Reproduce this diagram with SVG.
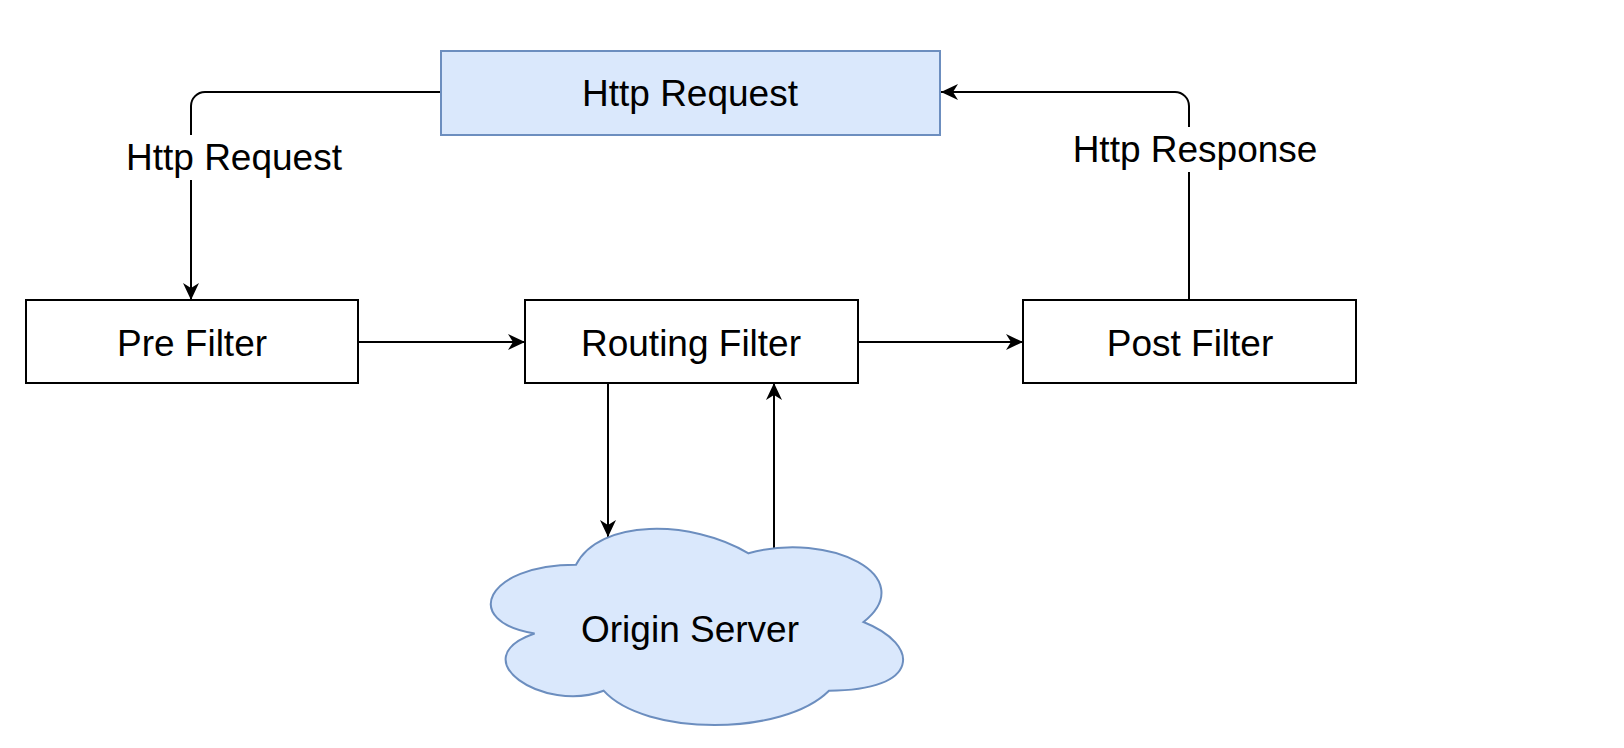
<svg xmlns="http://www.w3.org/2000/svg" width="1624" height="748" viewBox="0 0 1624 748">
  <defs>
    <marker id="arrow" markerUnits="userSpaceOnUse" markerWidth="20" markerHeight="20" viewBox="-18 -10 20 20" refX="0" refY="0" orient="auto">
      <path d="M0,0 L-17,-8 L-12,0 L-17,8 Z" fill="#000"/>
    </marker>
    <style>
      .box { fill: #ffffff; stroke: #000000; stroke-width: 2; }
      .blue { fill: #dae8fc; stroke: #6c8ebf; stroke-width: 2; }
      .edge { fill: none; stroke: #000000; stroke-width: 2; }
      .lbl { font-family: "Liberation Sans", Arial, Helvetica, sans-serif; font-size: 37px; fill: #000000; text-anchor: middle; }
      .lblbg { fill: #ffffff; stroke: none; }
    </style>
  </defs>
  <rect width="1624" height="748" fill="#ffffff"/>

  <g id="connectors">
    <path class="edge" d="M441,92 H205 A14,14 0 0 0 191,106 V300" marker-end="url(#arrow)"/>
    <path class="edge" d="M1189,300 V106 A14,14 0 0 0 1175,92 H941" marker-end="url(#arrow)"/>
    <path class="edge" d="M358,342 H525" marker-end="url(#arrow)"/>
    <path class="edge" d="M858,342 H1023" marker-end="url(#arrow)"/>
    <path class="edge" d="M608,383 V537" marker-end="url(#arrow)"/>
    <path class="edge" d="M774,553 V383" marker-end="url(#arrow)"/>
    <g id="label-request">
      <rect class="lblbg" x="125" y="135" width="218" height="45"/>
      <text class="lbl" x="234" y="170">Http Request</text>
    </g>
    <g id="label-response">
      <rect class="lblbg" x="1073" y="127" width="246" height="45"/>
      <text class="lbl" x="1195" y="162">Http Response</text>
    </g>
  </g>

  <g id="http-request">
    <rect class="blue" x="441" y="51" width="499" height="84"/>
    <text class="lbl" x="690" y="106">Http Request</text>
  </g>
  <g id="pre-filter">
    <rect class="box" x="26" y="300" width="332" height="83"/>
    <text class="lbl" x="192" y="356">Pre Filter</text>
  </g>
  <g id="routing-filter">
    <rect class="box" x="525" y="300" width="333" height="83"/>
    <text class="lbl" x="691" y="356">Routing Filter</text>
  </g>
  <g id="post-filter">
    <rect class="box" x="1023" y="300" width="333" height="83"/>
    <text class="lbl" x="1190" y="356">Post Filter</text>
  </g>
  <g id="origin-server">
    <path class="blue" transform="translate(461,507.5) scale(460,229)" vector-effect="non-scaling-stroke" d="M0.25,0.25 C0.05,0.25 0,0.5 0.16,0.55 C0,0.66 0.18,0.9 0.31,0.8 C0.4,1 0.7,1 0.8,0.8 C1,0.8 1,0.6 0.875,0.5 C1,0.3 0.8,0.1 0.625,0.2 C0.5,0.05 0.3,0.05 0.25,0.25 Z"/>
    <text class="lbl" x="690" y="642">Origin Server</text>
  </g>
</svg>
